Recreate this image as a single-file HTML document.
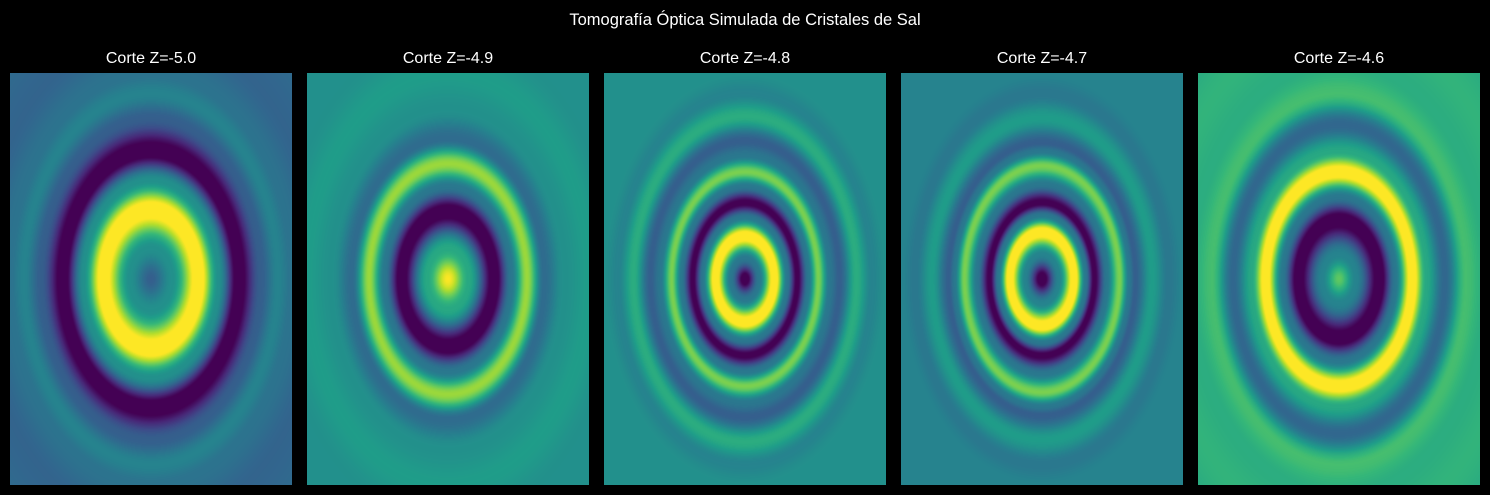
<!DOCTYPE html>
<html><head><meta charset="utf-8"><style>
body{margin:0;background:#000;width:1490px;height:495px;overflow:hidden;position:relative;font-family:"Liberation Sans","DejaVu Sans",sans-serif;color:#fff}
.t{position:absolute;white-space:nowrap;transform:translateX(-50%)}
canvas{position:absolute}
</style></head><body>
<div class="t" style="left:745px;top:11px;font-size:16.5px">Tomografía Óptica Simulada de Cristales de Sal</div>
<div id="root"></div>
<script>
const titles=["Corte Z=-5.0","Corte Z=-4.9","Corte Z=-4.8","Corte Z=-4.7","Corte Z=-4.6"];
const radii1=[0,0.15,0.34,0.48,0.62,0.78,0.9,1.0,1.2,1.5];
const vals1=[0.3,0.5,1.08,0.5,-0.06,0.3,0.45,0.38,0.32,0.35];
const radii2=[0,0.15,0.33,0.45,0.56,0.68,0.82,1.0,1.2,1.5];
const vals2=[1.0,0.6,-0.06,0.4,0.85,0.35,0.5,0.55,0.5,0.5];
const radii3=[0,0.1,0.21,0.3,0.37,0.45,0.52,0.6,0.67,0.79,0.9,1.0,1.2,1.5];
const vals3=[-0.08,0.4,1.08,0.4,-0.02,0.4,0.8,0.4,0.3,0.62,0.45,0.5,0.5,0.5];
const radii4=[0,0.12,0.23,0.31,0.37,0.46,0.55,0.62,0.66,0.78,0.9,1.0,1.2,1.5];
const vals4=[-0.08,0.45,1.08,0.4,-0.02,0.4,0.8,0.4,0.3,0.55,0.4,0.45,0.45,0.45];
const radii5=[0,0.12,0.29,0.4,0.52,0.62,0.75,0.9,1.05,1.25,1.5];
const vals5=[0.75,0.45,-0.06,0.4,1.08,0.6,0.33,0.7,0.62,0.65,0.6];
const profiles=[[radii1,vals1],[radii2,vals2],[radii3,vals3],[radii4,vals4],[radii5,vals5]];
const vir=[[68,1,84],[72,40,120],[62,74,137],[49,104,142],[38,130,142],[31,158,137],[53,183,121],[109,205,89],[180,222,44],[253,231,37]];
function cmap(v){v=Math.max(0,Math.min(1,v))*9;const i=Math.min(8,Math.floor(v)),f=v-i;return vir[i].map((c,k)=>c+(vir[i+1][k]-c)*f);}
function prof(r,R,V){if(r>=R[R.length-1])return V[V.length-1];for(let i=0;i<R.length-1;i++){if(r<=R[i+1]){let f=(r-R[i])/(R[i+1]-R[i]);f=(1-Math.cos(Math.PI*f))/2;return V[i]+(V[i+1]-V[i])*f;}}}
const root=document.getElementById('root');
const W=282,H=412,X0=10,DX=297,Y0=73;
titles.forEach((t,p)=>{
  const d=document.createElement('div');d.className='t';d.textContent=t;
  d.style.left=(X0+p*DX+W/2)+'px';d.style.top='50px';d.style.fontSize='16px';
  
  
  root.appendChild(d);
  const c=document.createElement('canvas');c.width=W;c.height=H;
  c.style.left=(X0+p*DX)+'px';c.style.top=Y0+'px';
  
  
  root.appendChild(c);
  const ctx=c.getContext('2d'),img=ctx.createImageData(W,H);
  const [R,V]=profiles[p];
  for(let y=0;y<H;y++)for(let x=0;x<W;x++){
    const dx=(x+0.5-W/2)/(W/2),dy=(y+0.5-H/2)/(H/2);
    const col=cmap(prof(Math.hypot(dx,dy),R,V));const o=(y*W+x)*4;
    img.data[o]=col[0];img.data[o+1]=col[1];img.data[o+2]=col[2];img.data[o+3]=255;}
  ctx.putImageData(img,0,0);
});
</script></body></html>
